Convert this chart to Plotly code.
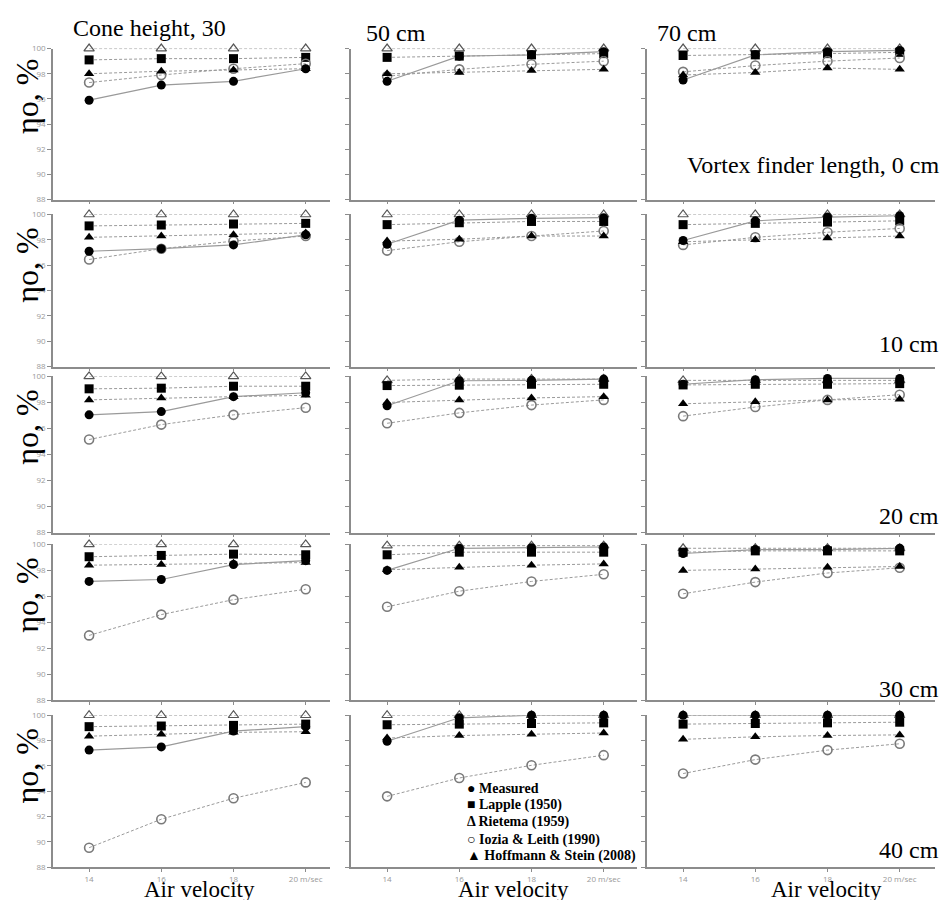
import plotly.graph_objects as go

# page is drawn with an 8px body margin; figure covers page px 8..949 x 8..900
OFF = 8
W, H = 949 - OFF, 900 - OFF

velocity = [14, 16, 18, 20]
x_tick_labels = ["14", "16", "18", "20 m/sec"]
y_ticks = [88, 90, 92, 94, 96, 98, 100]
col_titles = ["Cone height, 30", "50 cm", "70 cm"]
row_titles = ["Vortex finder length, 0 cm", "10 cm", "20 cm", "30 cm", "40 cm"]
legend_names = ["Measured", "Lapple (1950)", "Rietema (1959)", "Iozia & Leith (1990)", "Hoffmann & Stein (2008)"]
legend_symbols = ["●", "■", "Δ", "○", "▲"]

# values[row][col] -> 4 values at 14,16,18,20 m/s
measured = [
    [[95.9, 97.1, 97.4, 98.4], [97.4, 99.4, 99.5, 99.75], [97.5, 99.5, 99.75, 99.85]],
    [[97.1, 97.3, 97.6, 98.4], [97.65, 99.55, 99.7, 99.75], [97.95, 99.5, 99.8, 99.9]],
    [[97.05, 97.3, 98.45, 98.75], [97.75, 99.67, 99.7, 99.8], [99.4, 99.75, 99.85, 99.85]],
    [[97.15, 97.3, 98.45, 98.75], [98.0, 99.7, 99.75, 99.8], [99.3, 99.6, 99.6, 99.7]],
    [[97.25, 97.5, 98.75, 99.1], [97.95, 99.8, 100.0, 100.0], [100.0, 100.0, 100.0, 100.0]],
]
lapple = [
    [[99.1, 99.2, 99.2, 99.3], [99.3, 99.4, 99.5, 99.6], [99.45, 99.5, 99.6, 99.7]],
    [[99.1, 99.17, 99.25, 99.3], [99.2, 99.35, 99.45, 99.45], [99.2, 99.3, 99.4, 99.5]],
    [[99.05, 99.1, 99.25, 99.25], [99.3, 99.33, 99.4, 99.4], [99.35, 99.4, 99.4, 99.45]],
    [[99.05, 99.15, 99.25, 99.2], [99.2, 99.4, 99.4, 99.4], [99.4, 99.5, 99.5, 99.5]],
    [[99.1, 99.15, 99.2, 99.3], [99.25, 99.3, 99.35, 99.4], [99.3, 99.35, 99.4, 99.45]],
]
rietema = [
    [[100, 100, 100, 100], [100, 100, 100, 100], [100, 100, 100, 100]],
    [[100, 100, 100, 100], [100, 100, 100, 100], [100, 100, 100, 100]],
    [[100, 100, 100, 100], [99.7, 99.8, 99.8, 99.8], [99.7, 99.7, 99.7, 99.7]],
    [[100, 100, 100, 100], [99.9, 99.9, 99.9, 99.9], [99.7, 99.7, 99.7, 99.7]],
    [[100, 100, 100, 100], [100, 100, 100, 100], [100, 100, 100, 100]],
]
iozia = [
    [[97.3, 97.9, 98.4, 98.8], [97.8, 98.35, 98.75, 99.0], [98.15, 98.65, 99.0, 99.25]],
    [[96.45, 97.3, 97.9, 98.3], [97.15, 97.85, 98.3, 98.7], [97.6, 98.2, 98.6, 98.9]],
    [[95.15, 96.3, 97.05, 97.6], [96.4, 97.2, 97.8, 98.2], [96.95, 97.65, 98.2, 98.6]],
    [[93.0, 94.6, 95.75, 96.55], [95.2, 96.4, 97.15, 97.7], [96.2, 97.1, 97.8, 98.2]],
    [[89.55, 91.8, 93.45, 94.7], [93.6, 95.05, 96.05, 96.85], [95.4, 96.5, 97.25, 97.75]],
]
hoffmann = [
    [[98.0, 98.2, 98.3, 98.4], [98.0, 98.1, 98.25, 98.35], [97.9, 98.1, 98.45, 98.35]],
    [[98.2, 98.3, 98.4, 98.55], [97.9, 98.05, 98.3, 98.3], [97.85, 98.0, 98.15, 98.3]],
    [[98.2, 98.35, 98.45, 98.55], [98.0, 98.2, 98.35, 98.45], [97.9, 98.05, 98.2, 98.25]],
    [[98.4, 98.45, 98.55, 98.6], [98.05, 98.25, 98.4, 98.5], [98.0, 98.1, 98.25, 98.3]],
    [[98.35, 98.5, 98.65, 98.7], [98.2, 98.4, 98.5, 98.6], [98.1, 98.3, 98.4, 98.45]],
]

# layout geometry (page pixels)
col_px = [(53, 330), (351, 637), (647, 935)]
row_px = [(43, 196), (211, 365), (375, 533), (545, 703), (718, 872)]
px_per_unit = 36.1

def px_x(p):
    return (p - OFF) / W

def px_y(p):
    return 1 - (p - OFF) / H

AX = "#8c8c8c"
LINE = "#9a9a9a"
serif = "Liberation Serif, Times New Roman, serif"

fig = go.Figure()
layout = dict(width=W, height=H, margin=dict(l=0, r=0, t=0, b=0),
              paper_bgcolor="white", plot_bgcolor="white", showlegend=False)

series = [
    ("Rietema", rietema, dict(symbol="triangle-up-open", color="#555555", size=9, line=dict(width=1.2, color="#555555")), "dot"),
    ("Lapple", lapple, dict(symbol="square", color="black", size=9), "dot"),
    ("Iozia", iozia, dict(symbol="circle-open", color="#7a7a7a", size=9, line=dict(width=1.6, color="#7a7a7a")), "dot"),
    ("Hoffmann", hoffmann, dict(symbol="triangle-up", color="black", size=9), "dot"),
    ("Measured", measured, dict(symbol="circle", color="black", size=9), "solid"),
]

for r in range(5):
    for c in range(3):
        k = r * 3 + c + 1
        xa = "x" if k == 1 else f"x{k}"
        ya = "y" if k == 1 else f"y{k}"
        L, R = col_px[c]
        T, B = row_px[r]
        xrange_hi = 13 + (R - L) / px_per_unit
        layout["xaxis" if k == 1 else f"xaxis{k}"] = dict(
            domain=[px_x(L), px_x(R)], range=[13, xrange_hi], anchor=ya,
            showline=True, linecolor=AX, linewidth=1.5, showgrid=False, zeroline=False,
            ticks="outside", ticklen=3, tickcolor=AX, tickwidth=1,
            tickvals=velocity, ticktext=x_tick_labels, showticklabels=(r == 4),
            tickfont=dict(size=8, color="#999999", family="Open Sans, sans-serif"),
        )
        layout["yaxis" if k == 1 else f"yaxis{k}"] = dict(
            domain=[px_y(B), px_y(T)], range=[88, 100], anchor=xa,
            showline=True, linecolor=AX, linewidth=1.5, showgrid=False, zeroline=False,
            ticks="outside", ticklen=4, tickcolor=AX, tickwidth=1,
            tickvals=y_ticks, showticklabels=(c == 0),
            tickfont=dict(size=8, color="#999999", family="Open Sans, sans-serif"),
        )
        for name, data, mk, dash in series:
            fig.add_trace(go.Scatter(
                x=velocity, y=data[r][c], xaxis=xa, yaxis=ya, mode="lines+markers",
                name=name, marker=mk, cliponaxis=False,
                line=dict(color=LINE, width=1.2 if dash == "solid" else 1,
                          dash="solid" if dash == "solid" else "3px,2px"),
            ))

anns = []
def add_text(text, xpx, ypx, size=24, xanchor="left", yanchor="middle", angle=0, bold=False, color="black"):
    anns.append(dict(text=f"<b>{text}</b>" if bold else text, x=px_x(xpx), y=px_y(ypx),
                     xref="paper", yref="paper", xanchor=xanchor, yanchor=yanchor,
                     showarrow=False, textangle=angle, borderpad=0, borderwidth=0,
                     font=dict(family=serif, size=size, color=color)))

add_text(col_titles[0], 73, 22)
add_text(col_titles[1], 366, 27)
add_text(col_titles[2], 657, 27)
add_text(row_titles[0], 939, 161, xanchor="right")
for i, ypx in enumerate([342, 516, 691, 854]):
    add_text(row_titles[i + 1], 939, ypx, xanchor="right")
for cx in [199, 513, 826]:
    add_text("Air velocity", cx, 894, size=23, xanchor="center")
for ypx in [92, 263, 427, 597, 770]:
    add_text("ηo, %", 27, ypx, size=32, xanchor="center", angle=-90)
for i, ypx in enumerate([792, 809, 826, 844, 861]):
    add_text(f"{legend_symbols[i]} {legend_names[i]}", 467, ypx, size=14, bold=True)

layout["annotations"] = anns
fig.update_layout(**layout)
fig.write_html("out.html")
